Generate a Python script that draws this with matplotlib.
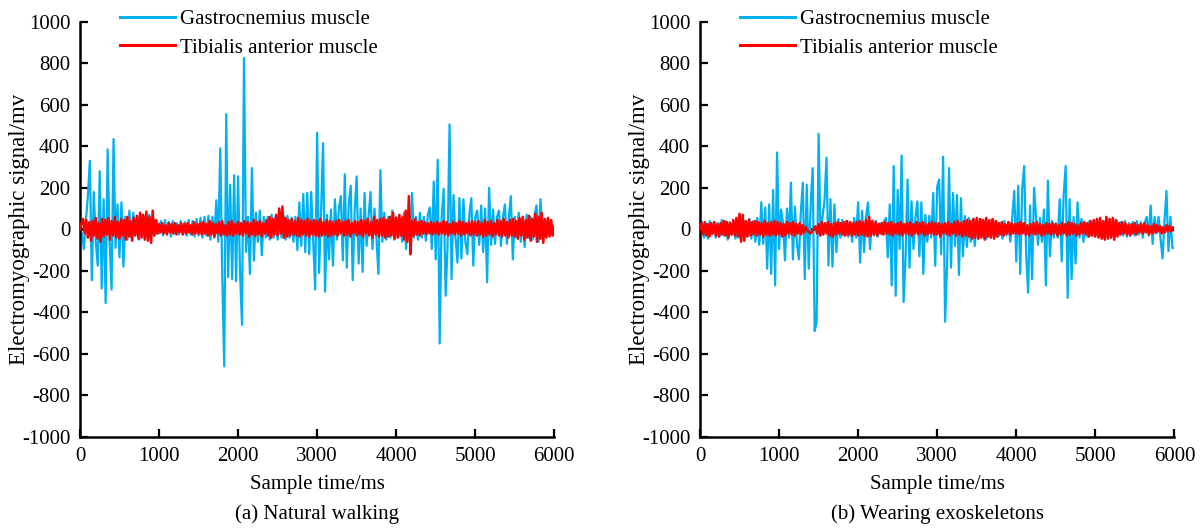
import numpy as np
import matplotlib
matplotlib.use("Agg")
import matplotlib.pyplot as plt

plt.rcParams['font.family'] = ['Liberation Serif', 'DejaVu Serif']
plt.rcParams['axes.unicode_minus'] = False

# EMG samples, gastrocnemius every 25 ms, tibialis anterior every 20 ms
gas_step = 25
tib_step = 20

gas_walk = [
    0, -20, -95, 40, 160, 330, -245, 180, -60, -175, 280, -285, 145, -355, 385, -60, -290, 435, -90, 120,
    -135, 130, -180, 60, -50, 90, -40, 80, -30, 60, -50, 70, -20, 60, -40, 70, -25, 45, -30, 40,
    -20, 40, -30, 45, -15, 35, -35, 40, -20, 30, -25, 40, -20, 35, -30, 45, -25, 40, -35, 50,
    -30, 55, -40, 60, -30, 65, -50, 60, -40, 140, -60, 390, -225, -660, 555, -230, 215, -240, 260, -250,
    255, -210, -460, 825, -110, 60, -215, 295, -150, 80, -60, 90, -125, 60, -40, 60, -50, 70, -40, 60,
    -50, 75, -40, 70, -50, 65, -40, 55, -60, 60, -100, 130, -80, 170, -110, 175, -120, 180, -60, -290,
    465, -210, 90, 415, -300, 70, -145, 95, -175, 145, -50, 100, 160, -150, 265, -185, 120, 210, -245, 90,
    255, -165, 100, -205, 175, -80, 60, 180, -95, 100, -40, -215, 285, -60, 80, -50, 60, -40, 90, -50,
    60, -40, 50, -60, 80, -95, 60, -60, 175, -40, 60, -50, 80, -40, 60, -55, 70, 105, -95, 230,
    -145, 335, -550, 60, 195, -320, -80, 505, -240, 165, -40, -160, 150, -140, 145, -60, -120, 70, 150, -175,
    60, 90, -75, 115, -110, 100, -255, 200, -75, 95, -70, 60, 90, -80, 60, 120, -70, 60, 160, -145,
    60, -40, 80, -60, 50, -85, 70, -40, 60, -50, 70, 115, -60, 145, -45, 40, -30, 35, -20, 20, 10,
]

tib_walk = [
    0, 30, 50, -20, 45, -40, 35, -55, 40, -30, 55, -45, 30, -60, 50, -35, 45, -25, 55, -50, 40, -30, 60, -40, 35,
    -45, 50, -30, 45, -50, 60, -35, 40, -55, 55, -30, 65, -45, 80, -40, 70, -50, 85, -55, 60, -65, 90, -30, 45, -20,
    25, -15, 30, -20, 20, -25, 30, -15, 25, -20, 30, -25, 20, -15, 30, -25, 25, -20, 30, -15, 20, -25, 35, -20, 25,
    -20, 30, -25, 35, -20, 25, -30, 40, -25, 30, -35, 25, -20, 35, -30, 40, -25, 20, -30, 35, -25, 40, -30, 25, -20,
    35, -25, 30, -30, 40, -20, 35, -35, 30, -25, 45, -30, 35, -25, 40, -35, 30, -20, 45, -30, 60, -40, 50, -25, 70,
    -30, 100, -20, 110, -40, 55, -35, 45, -30, 50, -25, 40, -30, 55, -35, 45, -25, 40, -30, 50, -35, 40, -25, 45, -30,
    40, -35, 50, -30, 35, -25, 45, -35, 40, -30, 35, -25, 40, -30, 45, -20, 35, -30, 40, -25, 45, -35, 30, -20, 40,
    -30, 35, -25, 45, -35, 40, -20, 50, -30, 35, -40, 60, -25, 45, -35, 50, -30, 55, -40, 45, -35, 60, -30, 80, -45,
    55, -40, 70, -30, 60, -50, 90, -60, 160, -120, 40, -30, 50, -25, 35, -30, 40, -20, 35, -25, 30, -20, 35, -25, 30,
    -20, 35, -25, 30, -20, 40, -25, 35, -30, 25, -20, 35, -25, 30, -20, 40, -30, 35, -25, 30, -20, 35, -30, 40, -25,
    35, -30, 40, -25, 30, -35, 45, -30, 35, -25, 40, -35, 30, -25, 45, -30, 40, -35, 50, -30, 35, -40, 45, -30, 50,
    -35, 40, -45, 55, -30, 60, -50, 45, -40, 65, -55, 50, -35, 75, -60, 60, -45, 80, -65, 50, -40, 55, -35, 45, -30,
    10,
]

gas_exo = [
    0, 35, -40, 30, -45, 40, -25, 35, -40, 30, -35, 45, -30, 40, -50, 35, -25, 40, -45, 30,
    -40, 45, -30, 40, -35, 50, -45, 40, -60, 55, -75, 130, -70, 105, -190, 120, -215, 190, -270, 370,
    -95, 95, 30, -150, 100, -40, 225, -145, 110, -65, -145, 80, 225, -240, 215, -190, 120, 295, -490, -445,
    460, -30, 60, 140, 345, -175, 145, -180, 120, -110, 50, -40, 45, -30, 40, -35, 30, -60, 55, -40,
    130, -160, 90, -110, 60, 130, -95, 40, -30, 40, -35, 30, -25, 35, 55, -135, 120, -270, 305, -320,
    190, -95, 355, -350, -135, 240, -185, 135, -95, 60, 135, -130, 130, -215, 70, -60, 65, -40, 175, -175,
    205, 240, -120, 350, -445, -175, 295, -185, 175, -80, 165, -220, 150, -130, 65, -85, 55, -60, 50, -80,
    45, -40, 50, -35, 40, -45, 35, -40, 45, -30, 40, -35, 30, -45, 40, -30, 35, -60, 60, 185,
    -155, 210, -215, 195, 305, -120, -305, 115, -240, 200, 60, -75, 55, -60, 95, -270, 235, -130, 40, -40,
    30, -40, 145, -155, 170, 305, -330, 145, -240, 60, -165, 130, -40, 50, -60, 30, -35, 40, -30, 35,
    -30, 40, -35, 30, -40, 35, -25, 30, -40, 35, -30, 40, -25, 35, -30, 40, -35, 30, -25, 35,
    -30, 40, -25, 35, -40, 30, 60, -30, 115, -70, 60, -20, 60, -45, -140, 40, 185, -105, 60, -90, -90,
]

tib_exo = [
    0, 30, -25, 35, -30, 25, -35, 30, -20, 35, -30, 25, -35, 30, -25, 40, -30, 35, -40, 30, -25, 45, -30, 55, -35,
    75, -60, 70, -55, 40, -35, 45, -30, 35, -25, 40, -30, 35, -25, 30, -35, 40, -25, 30, -30, 35, -25, 40, -30, 35,
    -25, 30, -35, 25, -30, 35, -20, 30, -25, 35, -30, 25, -20, 30, -25, 20, -15, 10, -5, -15, -20, -10, 5, 15, -20,
    25, -30, 35, -25, 30, -20, 35, -30, 25, -35, 30, -25, 35, -20, 30, -25, 35, -30, 40, -25, 35, -30, 30, -25, 35,
    -30, 40, -25, 35, -30, 45, -35, 60, -30, 40, -25, 35, -30, 25, -20, 30, -25, 35, -20, 30, -25, 35, -30, 25, -20,
    30, -25, 35, -30, 25, -20, 30, -25, 35, -30, 25, -20, 35, -25, 30, -20, 35, -30, 25, -25, 30, -20, 35, -25, 30,
    -25, 30, -35, 25, -20, 30, -25, 35, -30, 25, -20, 35, -30, 40, -25, 30, -35, 40, -30, 45, -35, 40, -45, 50, -40,
    55, -45, 50, -40, 45, -50, 55, -35, 45, -40, 50, -45, 40, -35, 30, -25, 35, -30, 25, -20, 35, -25, 30, -20, 25,
    -20, 30, -25, 35, -20, 30, -25, 20, -30, 25, -20, 30, -25, 35, -20, 25, -30, 20, -25, 30, -20, 25, -25, 30, -20,
    25, -30, 20, -25, 30, -20, 25, -30, 35, -25, 30, -20, 25, -30, 20, -25, 30, -20, 35, -25, 30, -35, 40, -30, 45,
    -35, 50, -40, 55, -45, 40, -50, 60, -45, 50, -40, 55, -50, 45, -35, 30, -25, 35, -20, 30, -25, 20, -30, 25, -20,
    30, -25, 20, -15, 25, -20, 30, -15, 20, -25, 15, -20, 25, -15, 20, -10, 15, -20, 10, -15, 20, -10, 15, -10, 10,
    5,
]

panels = [
    ("(a) Natural walking", gas_walk, tib_walk),
    ("(b) Wearing exoskeletons", gas_exo, tib_exo),
]
series_names = ["Gastrocnemius muscle", "Tibialis anterior muscle"]
x_ticks = [0, 1000, 2000, 3000, 4000, 5000, 6000]
y_ticks = list(range(-1000, 1001, 200))

BLUE = "#00B0F0"
RED = "#FF0000"
FS = 15

fig = plt.figure(figsize=(12.04, 5.29), dpi=100)
lefts = [0.0664, 0.5814]

for left, (caption, gas, tib) in zip(lefts, panels):
    ax = fig.add_axes([left, 0.174, 0.394, 0.785])
    t_gas = np.arange(len(gas)) * gas_step
    t_tib = np.arange(len(tib)) * tib_step

    ax.plot([0, 6050], [0, 0], color="black", lw=2.0, zorder=1)
    ax.plot(t_gas, gas, color=BLUE, lw=1.6, label=series_names[0], zorder=2)
    ax.plot(t_tib, tib, color=RED, lw=1.8, label=series_names[1], zorder=3)

    ax.set_xlim(0, 6000)
    ax.set_ylim(-1000, 1000)
    ax.set_xticks(x_ticks)
    ax.set_yticks(y_ticks)
    ax.tick_params(direction="in", length=6, width=1.6, labelsize=FS)
    ax.tick_params(axis="x", pad=7)
    ax.tick_params(axis="y", pad=7)
    for side in ("top", "right"):
        ax.spines[side].set_visible(False)
    for side in ("left", "bottom"):
        ax.spines[side].set_linewidth(1.8)

    ax.set_xlabel("Sample time/ms", fontsize=FS, labelpad=7)
    ax.set_ylabel("Electromyographic signal/mv", fontsize=16.5, labelpad=-6)
    ax.text(0.5, -0.162, caption, transform=ax.transAxes, ha="center", va="top", fontsize=FS)

    ax.legend(loc="upper left", bbox_to_anchor=(0.084, 1.03), frameon=False,
              fontsize=FS, handlelength=2.65, handletextpad=0.25, labelspacing=0.45,
              borderaxespad=0, borderpad=0)
    for line in ax.get_legend().get_lines():
        line.set_linewidth(2.2)

fig.savefig("out.png", dpi=100)
